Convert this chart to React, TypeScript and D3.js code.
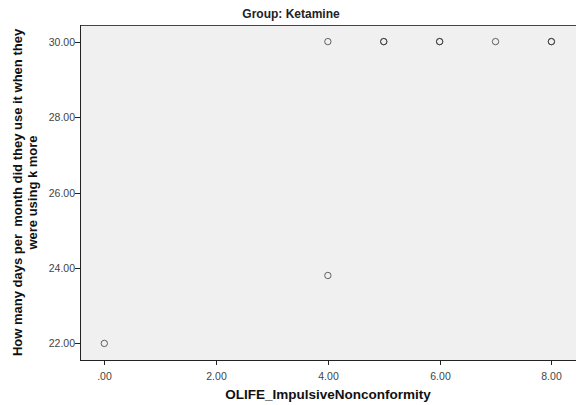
import React from "react";
import * as d3 from "d3";

const xValues = [0, 4, 4, 5, 5, 6, 6, 7, 8, 8];
const yValues = [22, 23.8, 30, 30, 30, 30, 30, 30, 30, 30];

const xTicks = [0, 2, 4, 6, 8];
const xTickLabels = [".00", "2.00", "4.00", "6.00", "8.00"];
const yTicks = [22, 24, 26, 28, 30];
const yTickLabels = ["22.00", "24.00", "26.00", "28.00", "30.00"];

const title = "Group: Ketamine";
const xTitle = "OLIFE_ImpulsiveNonconformity";
const yTitleLines = ["How many days per  month did they use it when they", "were using k more"];

const width = 576;
const height = 405;
const plot = { left: 80, top: 25, right: 576, bottom: 360 };

export default function App(): React.ReactElement {
    const x = d3.scaleLinear().domain([-0.435, 8.44]).range([plot.left, plot.right]);
    const y = d3.scaleLinear().domain([21.56, 30.44]).range([plot.bottom, plot.top]);

    const font = "'Liberation Sans', Arial, sans-serif";
    const yMid = (plot.top + plot.bottom) / 2;

    return (
        <svg
            width={width}
            height={height}
            style={{ position: "absolute", left: 0, top: 0, background: "#ffffff" }}
            fontFamily={font}
        >
            <rect x={plot.left} y={plot.top} width={plot.right - plot.left} height={plot.bottom - plot.top} fill="#f0f0f0" />

            {/* frame: left, top and bottom edges (right side runs off the picture) */}
            <line x1={plot.left} x2={plot.right} y1={plot.top + 0.5} y2={plot.top + 0.5} stroke="#444" />
            <line x1={plot.left} x2={plot.right} y1={plot.bottom + 0.5} y2={plot.bottom + 0.5} stroke="#222" />
            <line x1={plot.left + 0.5} x2={plot.left + 0.5} y1={plot.top} y2={plot.bottom + 1} stroke="#222" />

            {yTicks.map((t, i) => (
                <g key={"y" + t} transform={`translate(0,${Math.round(y(t)) + 0.5})`}>
                    <line x1={plot.left - 5} x2={plot.left} stroke="#222" />
                    <text x={plot.left - 5} dy="0.35em" textAnchor="end" fontSize={10.5} fill="#444">
                        {yTickLabels[i]}
                    </text>
                </g>
            ))}

            {xTicks.map((t, i) => (
                <g key={"x" + t} transform={`translate(${Math.round(x(t)) + 0.5},0)`}>
                    <line y1={plot.bottom} y2={plot.bottom + 5} stroke="#222" />
                    <text y={plot.bottom + 20} textAnchor="middle" fontSize={10.5} fill="#444">
                        {xTickLabels[i]}
                    </text>
                </g>
            ))}

            {xValues.map((v, i) => (
                <circle
                    key={"p" + i}
                    cx={x(v)}
                    cy={y(yValues[i])}
                    r={3.2}
                    fill="none"
                    stroke="#333"
                    strokeWidth={1}
                    strokeOpacity={0.75}
                />
            ))}

            <text x={291} y={18} textAnchor="middle" fontSize={12} fontWeight="bold" fill="#222">
                {title}
            </text>
            <text x={(plot.left + plot.right) / 2} y={399} textAnchor="middle" fontSize={13.5} fontWeight="bold" fill="#111">
                {xTitle}
            </text>
            <g transform={`translate(0,${yMid}) rotate(-90)`}>
                {yTitleLines.map((line, i) => (
                    <text key={line} x={0} y={22 + i * 15} textAnchor="middle" fontSize={13} fontWeight="bold" fill="#111" style={{ whiteSpace: "pre" }}>
                        {line}
                    </text>
                ))}
            </g>
        </svg>
    );
}
